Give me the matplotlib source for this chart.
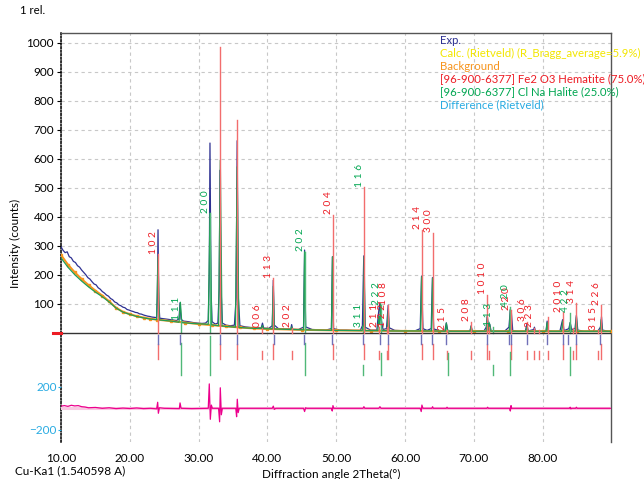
#----------------------------------------------------------------------------------------------------------------------
# Imports

import numpy as np
import matplotlib
matplotlib.use("Agg")
import matplotlib.pyplot as plt

#----------------------------------------------------------------------------------------------------------------------
# Data

# background
bg_tt = [10, 11, 12, 13, 14, 15, 16, 17, 18, 19, 20, 21, 22, 23, 24, 26, 28, 30, 32, 34, 36, 38, 40,
         45, 50, 55, 60, 65, 70, 75, 80, 85, 90]
bg_I = [268, 235, 208, 185, 164, 145, 128, 108, 86, 72, 64, 57, 52, 48, 45, 40, 35, 30, 26, 22, 18, 15, 13,
        10, 8, 7, 6, 5, 5, 5, 5, 5, 5]

# experimental pattern
obs_tt = [10.0, 10.3, 10.6, 10.9, 11.2, 11.5, 11.8, 12.1, 12.4, 12.7, 13.0, 13.3, 13.6, 13.9, 14.2, 14.5,
          14.8, 15.1, 15.4, 15.7, 16.0, 16.3, 16.6, 16.9, 17.2, 17.5, 17.8, 18.1, 18.4, 18.7, 19.0, 19.3,
          19.6, 19.9, 20.2, 20.5, 20.8, 21.1, 21.4, 21.7, 22.0, 22.3, 22.6, 22.9, 23.2, 23.5, 23.9,
          24.0, 24.1, 24.2, 24.35, 25.0, 25.6, 26.2, 26.8, 27.15, 27.3, 27.45, 27.8, 28.5, 29.2, 29.9,
          30.5, 31.0, 31.4, 31.55, 31.65, 31.8, 31.95, 32.4, 32.8, 33.0, 33.1, 33.25, 33.45, 34.0, 34.6,
          35.2, 35.45, 35.6, 35.75, 36.0, 36.8, 37.6, 38.4, 39.1, 39.28, 39.45, 40.2, 40.7, 40.85, 41.0,
          41.6, 42.6, 43.4, 43.52, 43.65, 44.5, 45.25, 45.4, 45.55, 46.5, 47.5, 48.5, 49.3, 49.45, 49.6,
          50.5, 51.5, 52.5, 53.5, 53.8, 54.0, 54.2, 55.0, 55.9, 56.1, 56.3, 56.45, 56.8, 57.3, 57.55,
          57.7, 58.5, 59.5, 60.5, 61.5, 62.2, 62.4, 62.6, 63.2, 63.8, 63.98, 64.15, 65.0, 65.8, 66.0,
          66.2, 67.0, 68.0, 69.0, 69.45, 69.6, 69.75, 70.5, 71.5, 71.8, 71.95, 72.1, 72.3, 72.5, 73.5,
          74.5, 75.1, 75.3, 75.45, 75.65, 76.5, 77.5, 77.7, 77.9, 78.7, 78.8, 78.95, 79.8, 80.5, 80.65,
          80.8, 81.5, 82.5, 82.9, 83.1, 83.8, 84.0, 84.2, 84.7, 84.9, 85.1, 86.0, 87.0, 88.0, 88.4,
          88.55, 88.7, 89.5, 90.0]
obs_I = [296, 284, 276, 279, 262, 258, 246, 242, 231, 226, 216, 208, 200, 190, 185, 176,
         168, 165, 155, 150, 142, 137, 130, 126, 118, 114, 106, 103, 96, 93, 88, 86,
         80, 78, 75, 73, 70, 69, 65, 64, 61, 59, 57, 56, 54, 53, 52,
         120, 355, 110, 50, 48, 46, 44, 42, 48, 103, 46, 40, 38, 35, 33,
         32, 33, 42, 200, 654, 150, 38, 30, 33, 150, 560, 160, 33, 26, 24,
         26, 120, 662, 130, 24, 20, 18, 17, 17, 33, 16, 15, 24, 181, 26,
         14, 13, 13, 28, 12, 11, 19, 285, 20, 11, 10, 9, 14, 262, 14,
         9, 9, 8, 8, 24, 265, 19, 9, 9, 58, 100, 58, 11, 14, 95,
         17, 8, 7, 7, 7, 14, 195, 14, 8, 14, 190, 13, 7, 7, 34,
         7, 6, 6, 6, 7, 24, 6, 6, 7, 19, 58, 24, 29, 7, 6,
         6, 19, 80, 70, 7, 5, 6, 29, 6, 11, 19, 5, 5, 7, 40,
         6, 5, 5, 45, 7, 14, 35, 11, 14, 60, 9, 5, 5, 5, 19,
         55, 9, 5, 5]

# calculated pattern
calc_tt = [10, 11, 12, 13, 14, 15, 16, 17, 18, 19, 20, 21, 22, 23, 23.9, 24.1, 24.3, 26, 27.15, 27.35,
           27.55, 29, 31.4, 31.65, 31.9, 32.9, 33.15, 33.4, 35.35, 35.6, 35.85, 38, 39.15, 39.28, 39.4,
           40.7, 40.85, 41.0, 43.4, 43.52, 43.65, 45.25, 45.4, 45.55, 49.3, 49.45, 49.6, 53.75, 53.9,
           53.97, 54.05, 54.2, 56.05, 56.2, 56.3, 56.45, 56.6, 57.4, 57.55, 57.7, 62.25, 62.4, 62.55,
           63.85, 64.0, 64.15, 65.85, 66.0, 66.15, 69.45, 69.6, 69.75, 71.8, 71.95, 72.1, 72.3, 72.45,
           75.15, 75.3, 75.45, 77.55, 77.7, 77.85, 80.5, 80.65, 80.8, 82.75, 82.9, 83.05, 83.85, 84.0,
           84.15, 84.75, 84.9, 85.05, 88.35, 88.5, 88.65, 90]
calc_I = [258, 226, 200, 178, 158, 140, 124, 106, 85, 71, 63, 56, 51, 47, 45, 262, 44, 40, 36, 105,
          35, 32, 29, 412, 27, 24, 595, 23, 19, 572, 18, 15, 15, 25, 14,
          13, 160, 13, 11, 20, 11, 10, 279, 10, 8, 262, 8, 7, 25,
          8, 262, 7, 7, 55, 30, 100, 7, 7, 70, 6, 6, 193, 6,
          6, 188, 6, 5, 33, 5, 5, 22, 5, 5, 55, 8, 30, 5,
          5, 78, 5, 5, 20, 5, 5, 35, 5, 5, 40, 5, 5, 35,
          5, 5, 55, 5, 5, 45, 5, 5]

# Fe2 O3 Hematite reflections: position, stick height, hkl label
hem_tt = [24.14, 33.15, 35.61, 39.28, 40.85, 43.52, 49.48, 54.09, 56.15, 57.43, 57.59, 62.45, 64.02,
          66.03, 69.60, 71.94, 72.26, 75.43, 77.73, 78.76, 79.5, 80.71, 82.94, 84.4, 84.91, 88.1, 88.54]
hem_I = [271, 985, 733, 16, 188, 16, 406, 501, 19, 19, 95, 354, 344,
         9, 38, 130, 20, 78, 37, 16, 10, 53, 71, 15, 102, 9, 95]
hem_hkl = ["1 0 2", "", "", "0 0 6", "1 1 3", "2 0 2", "2 0 4", "1 1 6", "2 1 1", "1 2 2", "1 0 8",
           "2 1 4", "3 0 0", "2 1 5", "2 0 8", "1 0 1 0", "", "2 2 0", "3 0 6", "2 2 3", "", "",
           "2 0 1 0", "", "3 1 4", "3 1 5", "2 2 6"]

# Cl Na Halite reflections
hal_tt = [27.37, 31.70, 45.45, 53.87, 56.48, 66.23, 72.8, 75.30, 83.99]
hal_I = [43, 412, 279, 19, 95, 10, 20, 88, 68]
hal_hkl = ["1 1 1", "2 0 0", "2 0 2", "3 1 1", "2 2 2", "", "1 1 3", "4 2 0", "4 2 2"]
hal_tick_top = [-36, -10, -36, -112, -70, -70, -112, -67, -50]

# peak search markers
peak_tt = [24.1, 27.3, 33.1, 35.6, 40.9, 45.3, 49.4, 53.9, 56.3, 57.5, 62.3, 63.9, 66.0, 71.9,
           75.1, 75.35, 77.7, 80.6, 82.9, 83.7, 84.9, 88.3]

# difference curve
diff_tt = [10, 10.5, 11, 11.5, 12, 12.5, 13, 13.5, 14, 15, 16, 17, 18, 19, 20, 21, 22, 23, 23.9, 24.05,
           24.15, 24.3, 25, 27.2, 27.3, 27.45, 29, 31.4, 31.55, 31.7, 31.85, 32, 32.9, 33.05, 33.15,
           33.3, 33.45, 35.4, 35.52, 35.62, 35.75, 35.9, 40.7, 40.85, 41.0, 41.2, 45.25, 45.4, 45.55,
           45.7, 49.3, 49.42, 49.52, 49.65, 53.9, 54.02, 54.15, 56.2, 56.35, 56.5, 62.2, 62.35, 62.45,
           62.6, 63.9, 64.0, 64.1, 66.0, 66.1, 66.2, 71.9, 72.0, 72.1, 75.2, 75.3, 75.4, 75.5, 83.9,
           84.0, 84.1, 84.2, 84.8, 84.9, 85.0, 90]
diff_I = [20, 25, 18, 28, 22, 25, 15, 12, 5, 8, 0, 5, -3, 2, -2, 3, -3, 0, -5, 56,
          -46, 5, 0, -3, 50, 0, -3, 0, 226, -102, 30, 0, 0, -125, 190,
          -60, 0, 0, -78, 84, -40, 0, 0, 20, -10, 0, 0, -30, 5,
          0, 0, -25, 25, 0, 0, 15, 0, 0, 15, 0, 0, -30, 30,
          0, 0, 15, 0, 0, 10, 0, 0, 10, 0, 0, -25, 25, 0, 0,
          10, -5, 0, 0, 10, 0, 0]

legend_lines = ["Exp.", "Calc. (Rietveld) (R_Bragg_average=5.9%)", "Background",
                "[96-900-6377] Fe2 O3 Hematite (75.0%)", "[96-900-6377] Cl Na Halite (25.0%)",
                "Difference (Rietveld)"]

#----------------------------------------------------------------------------------------------------------------------
# Style

plt.rcParams['font.family'] = ['Lato', 'DejaVu Sans']

navy = "#2e3192"
yellow = "#f2e600"
orange = "#f7941d"
red = "#ed1c24"
green = "#00a651"
lblue = "#29abe2"
magenta = "#ec008c"

W, H = 644, 479
left, right, top, bottom = 61, 611, 32.7, 442

fig = plt.figure(figsize=(W / 100, H / 100), dpi=100)
rect = [left / W, 1 - bottom / H, (right - left) / W, (bottom - top) / H]
ax = fig.add_axes(rect)

zero_px = 332.7
px_per = 0.29
ax.set_xlim(10, 89.93)
ax.set_ylim((zero_px - bottom) / px_per, (zero_px - top) / px_per)

ax.set_xticks(np.arange(10, 81, 10))
ax.set_xticklabels(["%.2f" % v for v in np.arange(10, 81, 10)])
ax.set_yticks(np.arange(100, 1001, 100))
ax.tick_params(axis='x', length=0, pad=8, labelsize=8.5)
ax.tick_params(axis='y', length=3, width=0.8, pad=2, labelsize=8.5)
ax.set_axisbelow(True)
ax.grid(True, linestyle=(0, (3, 3)), color="#c8c8c8", lw=0.8)

ax.spines['left'].set_linestyle((0, (1, 1.3)))
ax.spines['left'].set_linewidth(1.1)
ax.spines['bottom'].set_visible(False)
for s in ['top', 'right']:
    ax.spines[s].set_color("#555555")
    ax.spines[s].set_linewidth(1)

#----------------------------------------------------------------------------------------------------------------------
# Curves

ax.plot(obs_tt, obs_I, color=navy, lw=0.9, zorder=3)
ax.plot(bg_tt, bg_I, color=orange, lw=1.5, marker='s', ms=1.8, zorder=4)
ax.plot(calc_tt, calc_I, color="#1f9e55", lw=0.9, zorder=5)
ax.axhline(0, color="#333333", lw=1, zorder=6)
ax.plot([8.8, 10], [0, 0], color=red, lw=2.2, clip_on=False, zorder=6)

# sticks and hkl labels
for t, h, lab in zip(hem_tt, hem_I, hem_hkl):
    ax.plot([t, t], [0, h], color="#f26d6d", lw=1, zorder=6)
    tick_top = -40 if h >= 60 else -62
    ax.plot([t, t], [tick_top, -92], color="#f26d6d", lw=1)
    if lab:
        col = green if lab == "1 1 6" else red
        ax.text(t, h + 2, lab, rotation=90, ha='right', va='bottom', fontsize=7.3, color=col, zorder=7)

for t, h, lab, tt_top in zip(hal_tt, hal_I, hal_hkl, hal_tick_top):
    ax.plot([t, t], [0, h], color="#50b878", lw=1, zorder=5)
    ax.plot([t, t], [tt_top, -146], color="#50b878", lw=1)
    if lab:
        ax.text(t, h + 2, lab, rotation=90, ha='right', va='bottom', fontsize=7.3, color=green, zorder=7)

for t in peak_tt:
    ax.plot([t, t], [-8, -39], color="#7070b8", lw=1)

#----------------------------------------------------------------------------------------------------------------------
# Difference plot (own scale)

ax2 = fig.add_axes(rect, sharex=ax)
ax2.patch.set_visible(False)
for s in ax2.spines.values():
    s.set_visible(False)
d_zero = 408.3
d_per = 0.108
ax2.set_ylim(-(bottom - d_zero) / d_per, (d_zero - top) / d_per)
ax2.set_yticks([-200, 200])
ax2.tick_params(axis='y', length=2, pad=1, labelsize=8.5, labelcolor=lblue, color=lblue)
ax2.tick_params(axis='x', bottom=False, labelbottom=False)
ax2.axhline(0, color="#f9c8e2", lw=2.2, zorder=1)
ax2.plot(diff_tt, diff_I, color=magenta, lw=0.9, zorder=2)

#----------------------------------------------------------------------------------------------------------------------
# Texts

cols = [navy, yellow, orange, red, green, lblue]
for i, (txt, c) in enumerate(zip(legend_lines, cols)):
    fig.text(440 / W, 1 - (40 + 13 * i) / H, txt, color=c, fontsize=8.2, va='center', ha='left')

fig.text(20 / W, 1 - 10 / H, "1 rel.", fontsize=8.2, va='center', ha='left')
fig.text(15 / W, 1 - 243 / H, "Intensity (counts)", fontsize=8.5, rotation=90, va='center', ha='center')
fig.text(15 / W, 1 - 471 / H, "Cu-Ka1 (1.540598 A)", fontsize=8.5, va='center', ha='left')
fig.text(262 / W, 1 - 474 / H, "Diffraction angle 2Theta(°)", fontsize=8.5, va='center', ha='left')

fig.savefig("out.png", dpi=100)
